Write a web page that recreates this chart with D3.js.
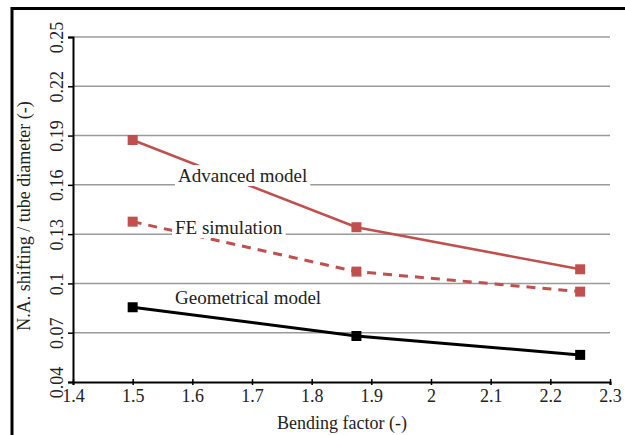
<!DOCTYPE html>
<html>
<head>
<meta charset="utf-8">
<script src="https://cdn.jsdelivr.net/npm/d3@7"></script>
<style>
  body { margin: 0; background: #fff; }
  text { font-family: "Liberation Serif", "DejaVu Serif", serif; fill: #222; }
</style>
</head>
<body>
<div id="chart"></div>
<script>
// Data
const bendingFactor = [1.5, 1.875, 2.25];
const advancedModel = [0.1873, 0.1342, 0.1086];
const feSimulation = [0.1376, 0.1072, 0.0950];
const geometricalModel = [0.0855, 0.0680, 0.0565];
const yTicks = [0.04, 0.07, 0.1, 0.13, 0.16, 0.19, 0.22, 0.25];
const xTicks = [1.4, 1.5, 1.6, 1.7, 1.8, 1.9, 2, 2.1, 2.2, 2.3];

const width = 625, height = 435;
const svg = d3.select("#chart").append("svg")
    .attr("width", width)
    .attr("height", height);

// frame (only left and top visible)
svg.append("path")
    .attr("d", "M12,435V8.5H625")
    .attr("fill", "none")
    .attr("stroke", "#000")
    .attr("stroke-width", 3);

const x = d3.scaleLinear().domain([1.4, 2.3]).range([73, 610]);
const y = d3.scaleLinear().domain([0.04, 0.25]).range([382, 37]);

// gridlines
svg.append("g")
    .selectAll("line")
    .data(yTicks.slice(1))
    .enter().append("line")
    .attr("x1", x(1.4)).attr("x2", x(2.3))
    .attr("y1", d => y(d)).attr("y2", d => y(d))
    .attr("stroke", "#9a9a9a")
    .attr("stroke-width", 1.5);

// y axis
const yAxis = svg.append("g")
    .attr("transform", `translate(${x(1.4)},0)`)
    .call(d3.axisLeft(y).tickValues(yTicks).tickSize(5).tickFormat(d3.format("~g")));
yAxis.select(".domain").attr("stroke", "#000").attr("stroke-width", 2);
yAxis.selectAll(".tick line").attr("stroke", "#000").attr("stroke-width", 1.5);
yAxis.selectAll(".tick text")
    .attr("x", null).attr("dy", null)
    .attr("transform", "translate(-16,0) rotate(-90)")
    .attr("text-anchor", "middle")
    .attr("dominant-baseline", "central")
    .style("font-size", "18px")
    .style("font-family", "Liberation Serif");

// x axis
const xAxis = svg.append("g")
    .attr("transform", `translate(0,${y(0.04)})`)
    .call(d3.axisBottom(x).tickValues(xTicks).tickSize(3).tickFormat(d3.format("~g")));
xAxis.select(".domain").attr("stroke", "#000").attr("stroke-width", 2);
xAxis.selectAll(".tick line").attr("y1", -3).attr("stroke", "#000").attr("stroke-width", 1.5);
xAxis.selectAll(".tick text")
    .attr("y", 20).attr("dy", null)
    .style("font-size", "18px")
    .style("font-family", "Liberation Serif");

// axis titles
svg.append("text")
    .attr("x", 342).attr("y", 429)
    .attr("text-anchor", "middle")
    .style("font-size", "18px")
    .text("Bending factor (-)");

svg.append("text")
    .attr("transform", "translate(30,216) rotate(-90)")
    .attr("text-anchor", "middle")
    .style("font-size", "18px")
    .text("N.A. shifting / tube diameter (-)");

const red = "#c0504d";
const series = [
    { name: "Advanced model", values: advancedModel, color: red, dash: null, width: 2.5 },
    { name: "FE simulation", values: feSimulation, color: red, dash: "9,7", width: 3 },
    { name: "Geometrical model", values: geometricalModel, color: "#000", dash: null, width: 3 }
];

const line = d3.line()
    .x((d, i) => x(bendingFactor[i]))
    .y(d => y(d));

series.forEach(s => {
    svg.append("path")
        .datum(s.values)
        .attr("d", line)
        .attr("fill", "none")
        .attr("stroke", s.color)
        .attr("stroke-width", s.width)
        .attr("stroke-dasharray", s.dash);
    svg.append("g")
        .selectAll("rect")
        .data(s.values)
        .enter().append("rect")
        .attr("x", (d, i) => x(bendingFactor[i]) - 5)
        .attr("y", d => y(d) - 5)
        .attr("width", 10)
        .attr("height", 10)
        .attr("fill", s.color);
});

// series labels with white boxes
const labels = [
    { text: "Advanced model", x: 178, y: 182 },
    { text: "FE simulation", x: 175, y: 234 },
    { text: "Geometrical model", x: 175, y: 304 }
];
labels.forEach(l => {
    const g = svg.append("g");
    const t = g.append("text")
        .attr("x", l.x).attr("y", l.y)
        .style("font-size", "19px")
        .text(l.text);
    const bb = t.node().getBBox();
    g.insert("rect", "text")
        .attr("x", bb.x - 3).attr("y", bb.y)
        .attr("width", bb.width + 6).attr("height", bb.height)
        .attr("fill", "#fff");
});
</script>
</body>
</html>
